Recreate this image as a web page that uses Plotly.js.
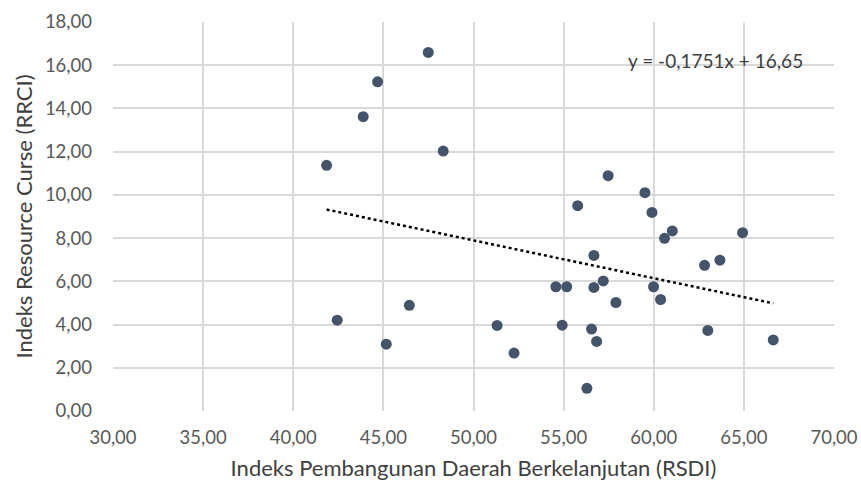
<!DOCTYPE html>
<html><head><meta charset="utf-8">
<script src="https://cdn.plot.ly/plotly-3.0.1.min.js"></script>
<style>html,body{margin:0;padding:0;background:#fff;}</style>
</head><body>
<div id="chart" style="width:861px;height:486px;"></div>
<script>
const rsdi = [41.85, 42.44, 43.88, 44.68, 45.16, 46.44, 47.49, 48.32, 51.31, 52.25,
  54.57, 55.17, 54.92, 55.78, 56.29, 56.55, 56.68, 56.68, 56.83, 57.20, 57.47, 57.90,
  59.51, 59.90, 59.99, 60.38, 60.60, 61.03, 62.82, 63.00, 63.67, 64.93, 66.63];
const rrci = [11.37, 4.20, 13.62, 15.23, 3.09, 4.89, 16.59, 12.03, 3.96, 2.68,
  5.75, 5.75, 3.97, 9.50, 1.05, 3.79, 7.20, 5.72, 3.22, 6.02, 10.89, 5.02,
  10.10, 9.19, 5.75, 5.16, 7.99, 8.33, 6.74, 3.73, 6.98, 8.25, 3.29];
const slope = -0.1751, intercept = 16.65;
const trendX = [Math.min(...rsdi), Math.max(...rsdi)];
const trendY = trendX.map(x => slope * x + intercept);
const eqText = "y = -0,1751x + 16,65";
const xTitle = "Indeks Pembangunan Daerah Berkelanjutan (RSDI)";
const yTitle = "Indeks Resource Curse (RRCI)";

const font = "Lato, 'Open Sans', sans-serif";
const data = [
  {x: rsdi, y: rrci, type: 'scatter', mode: 'markers',
   marker: {color: '#44546A', size: 11}, hoverinfo: 'x+y'},
  {x: trendX, y: trendY, type: 'scatter', mode: 'lines',
   line: {color: '#000000', width: 2.5, dash: 'dot'}}
];
const layout = {
  width: 861, height: 486,
  margin: {l: 113, r: 27, t: 22, b: 75},
  showlegend: false,
  separators: ',.',
  paper_bgcolor: '#fff', plot_bgcolor: '#fff',
  font: {family: font, color: '#595959', size: 18},
  xaxis: {range: [30, 70], dtick: 5, tick0: 30, tickformat: '.2f',
    showgrid: true, gridcolor: '#d9d9d9', gridwidth: 2, zeroline: false,
    showline: false, ticks: '', ticklabelstandoff: 13,
    tickfont: {size: 18.5, color: '#595959'},
    title: {text: xTitle, font: {size: 22, color: '#404040'}, standoff: 14}},
  yaxis: {range: [0, 18], dtick: 2, tick0: 0, tickformat: '.2f',
    showgrid: true, gridcolor: '#d9d9d9', gridwidth: 2, zeroline: false,
    showline: false, ticks: '', ticklabelstandoff: 20,
    tickfont: {size: 18.5, color: '#595959'},
    title: {text: yTitle, font: {size: 22, color: '#404040'}, standoff: 6}},
  annotations: [{x: 63.45, y: 16.2, xref: 'x', yref: 'y', text: eqText,
    showarrow: false, font: {size: 19, color: '#404040', family: font}}]
};
Plotly.newPlot('chart', data, layout, {displayModeBar: false, staticPlot: true});
</script>
</body></html>
